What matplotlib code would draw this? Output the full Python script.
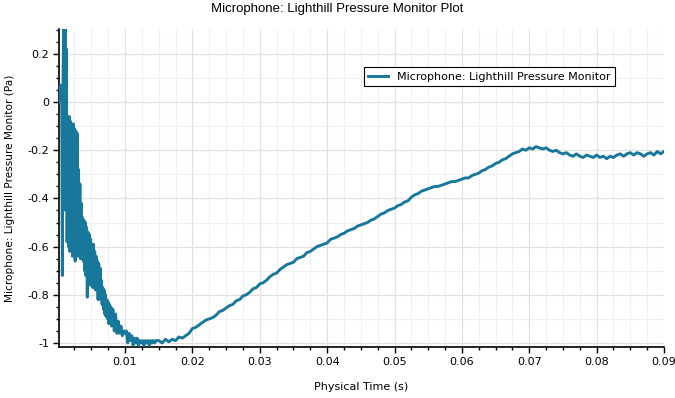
import numpy as np
import matplotlib
matplotlib.use('Agg')
from matplotlib import pyplot as plt
from matplotlib.ticker import MultipleLocator, FuncFormatter

plt.rcParams['axes.unicode_minus'] = False

# Start-up transient: t from 0.0002 to 0.0080, step 0.0001
t_start = np.arange(79) * 0.0001 + 0.0002
p_start = [0.00, 0.01, 0.06, 0.07, 0.05, -0.72, 0.10, 0.32, -0.30, 0.32,
           -0.45, 0.22, -0.58, -0.07, -0.60, -0.06, -0.62, -0.08, -0.58, -0.10,
           -0.64, -0.09, -0.60, -0.11, -0.66, -0.12, -0.62, -0.13, -0.64, -0.28,
           -0.60, -0.34, -0.65, -0.42, -0.63, -0.48, -0.66, -0.49, -0.70, -0.50,
           -0.72, -0.52, -0.81, -0.54, -0.74, -0.55, -0.76, -0.57, -0.74, -0.60,
           -0.77, -0.59, -0.75, -0.62, -0.78, -0.64, -0.76, -0.66, -0.82, -0.67,
           -0.78, -0.69, -0.82, -0.74, -0.84, -0.77, -0.86, -0.78, -0.88, -0.80,
           -0.89, -0.82, -0.90, -0.83, -0.92, -0.84, -0.91, -0.85, -0.93]

# Settling part: t from 0.0082 to 0.0148, step 0.0002
t_settle = np.arange(34) * 0.0002 + 0.0082
p_settle = [-0.86, -0.95, -0.88, -0.96, -0.91, -0.96, -0.93, -0.97, -0.95, -0.96,
            -0.95, -1.00, -0.96, -0.99, -0.97, -1.01, -0.98, -1.00, -0.98, -1.01,
            -0.99, -1.00, -0.99, -1.01, -0.99, -1.00, -0.99, -1.01, -0.99, -1.00,
            -0.99, -1.00, -0.99, -0.99]

# Recovery part: t from 0.015 to 0.09, step 0.0005
t_late = np.arange(151) * 0.0005 + 0.015
p_late = [-0.99, -1.00, -0.985, -0.995, -0.985, -0.99, -0.975, -0.98, -0.97, -0.96,
          -0.94, -0.935, -0.925, -0.915, -0.905, -0.90, -0.895, -0.885, -0.87, -0.865,
          -0.855, -0.845, -0.84, -0.825, -0.82, -0.805, -0.80, -0.79, -0.775, -0.77,
          -0.755, -0.75, -0.74, -0.725, -0.715, -0.71, -0.695, -0.685, -0.675, -0.67,
          -0.665, -0.65, -0.645, -0.64, -0.625, -0.62, -0.61, -0.60, -0.595, -0.59,
          -0.585, -0.57, -0.565, -0.56, -0.55, -0.545, -0.535, -0.53, -0.525, -0.515,
          -0.51, -0.505, -0.50, -0.49, -0.485, -0.475, -0.465, -0.46, -0.45, -0.445,
          -0.44, -0.43, -0.425, -0.415, -0.41, -0.395, -0.385, -0.38, -0.37, -0.365,
          -0.36, -0.355, -0.35, -0.35, -0.345, -0.34, -0.335, -0.33, -0.33, -0.325,
          -0.32, -0.315, -0.315, -0.305, -0.30, -0.295, -0.285, -0.28, -0.27, -0.265,
          -0.255, -0.25, -0.24, -0.235, -0.225, -0.215, -0.21, -0.205, -0.195, -0.20,
          -0.19, -0.195, -0.185, -0.19, -0.195, -0.19, -0.20, -0.205, -0.20, -0.21,
          -0.215, -0.21, -0.22, -0.225, -0.215, -0.225, -0.23, -0.22, -0.225, -0.23,
          -0.22, -0.23, -0.225, -0.235, -0.225, -0.23, -0.22, -0.215, -0.225, -0.215,
          -0.21, -0.22, -0.21, -0.215, -0.225, -0.215, -0.21, -0.22, -0.205, -0.215,
          -0.205]

t = np.concatenate([t_start, t_settle, t_late])
p = np.concatenate([p_start, p_settle, p_late])

fig = plt.figure(figsize=(6.75, 3.98), dpi=100)
ax = fig.add_axes([0.0874, 0.128, 0.8963, 0.799])

ax.plot(t, p, color='#17789b', lw=2.1, label='Microphone: Lighthill Pressure Monitor', zorder=3)

ax.set_xlim(0.0002, 0.09)
ax.set_ylim(-1.017, 0.303)

ax.xaxis.set_major_locator(MultipleLocator(0.01))
ax.xaxis.set_minor_locator(MultipleLocator(0.0025))
ax.yaxis.set_major_locator(MultipleLocator(0.2))
ax.yaxis.set_minor_locator(MultipleLocator(0.05))
ax.xaxis.set_major_formatter(FuncFormatter(lambda v, pos: '' if abs(v) < 1e-9 else '%g' % round(v, 4)))
ax.yaxis.set_major_formatter(FuncFormatter(lambda v, pos: '0' if abs(v) < 1e-9 else '%g' % round(v, 4)))

ax.grid(True, which='major', color='#e0e0e0', lw=0.9, zorder=0)
ax.grid(True, which='minor', axis='x', color='#f0f0f0', lw=0.8, zorder=0)
for v in np.arange(-0.9, 0.3, 0.2):
    ax.axhline(v, color='#f0f0f0', lw=0.8, zorder=0)
ax.set_axisbelow(True)

for s in ['top', 'right']:
    ax.spines[s].set_visible(False)
ax.spines['left'].set_linewidth(1.2)
ax.spines['bottom'].set_linewidth(1.2)

ax.tick_params(which='major', length=4, width=1, labelsize=8, direction='out', pad=3)
ax.tick_params(which='minor', length=2.5, width=1, direction='out')

ax.set_xlabel('Physical Time (s)', fontsize=8, labelpad=11)
ax.set_ylabel('Microphone: Lighthill Pressure Monitor (Pa)', fontsize=7.6, labelpad=9)
fig.suptitle('Microphone: Lighthill Pressure Monitor Plot', fontsize=9.5,
             family='Liberation Sans', y=0.993)

leg = ax.legend(loc='upper right', bbox_to_anchor=(0.919, 0.88), fontsize=8,
                fancybox=False, framealpha=1, edgecolor='black',
                handlelength=1.8, borderpad=0.4, borderaxespad=0)
leg.get_frame().set_linewidth(0.8)

fig.savefig('out.png', dpi=100)
